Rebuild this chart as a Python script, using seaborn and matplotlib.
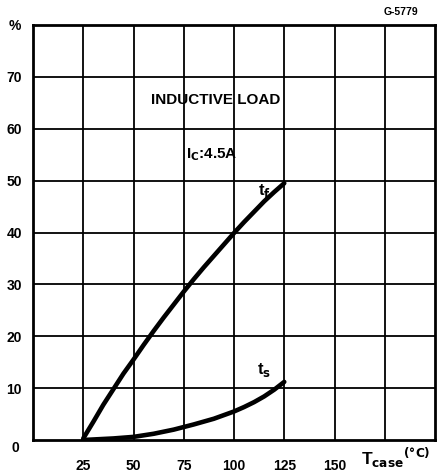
import matplotlib
matplotlib.use("Agg")
import matplotlib.pyplot as plt
import pandas as pd
import seaborn as sns

# curve data
tf_temp = [25, 30, 35, 40, 45, 50, 55, 60, 65, 70, 75, 80, 85, 90, 95, 100, 105, 110, 115, 120, 125]
tf_pct = [0.3, 3.5, 6.8, 9.8, 12.8, 15.5, 18.3, 21.0, 23.6, 26.1, 28.6, 31.0, 33.3, 35.5, 37.7, 39.9,
          42.0, 44.0, 46.0, 47.8, 49.5]

ts_temp = [25, 30, 40, 50, 60, 70, 80, 90, 100, 105, 110, 115, 120, 125]
ts_pct = [0.0, 0.1, 0.3, 0.6, 1.2, 2.0, 3.0, 4.1, 5.5, 6.35, 7.3, 8.4, 9.7, 11.2]

x_ticks = [25, 50, 75, 100, 125, 150]
y_ticks = [10, 20, 30, 40, 50, 60, 70]

sns.set_style("white")
plt.rcParams['font.family'] = ['Liberation Sans', 'DejaVu Sans']
plt.rcParams['text.color'] = 'black'
plt.rcParams['xtick.color'] = 'black'
plt.rcParams['ytick.color'] = 'black'

fig = plt.figure(figsize=(4.41, 4.76), dpi=100)
ax = fig.add_axes([33 / 441, 1 - 440 / 476, 402 / 441, 415 / 476])

# grid
for xv in [25, 50, 75, 100, 125, 150, 175]:
    ax.axvline(xv, color='black', lw=1.3, zorder=1)
for yv in y_ticks:
    ax.axhline(yv, color='black', lw=1.3, zorder=1)

df_tf = pd.DataFrame({"T": tf_temp, "pct": tf_pct})
df_ts = pd.DataFrame({"T": ts_temp, "pct": ts_pct})
sns.lineplot(data=df_tf, x="T", y="pct", color='black', lw=3.3, ax=ax, zorder=3)
sns.lineplot(data=df_ts, x="T", y="pct", color='black', lw=3.3, ax=ax, zorder=3)

ax.set_xlim(0, 200)
ax.set_ylim(0, 80)
for s in ax.spines.values():
    s.set_color('black')
    s.set_linewidth(2)

ax.set_xticks(x_ticks)
ax.set_xticklabels([str(v) for v in x_ticks], fontweight='bold', fontsize=10)
ax.set_yticks(y_ticks)
ax.set_yticklabels([str(v) for v in y_ticks], fontweight='bold', fontsize=10)
ax.tick_params(axis='x', length=0, pad=14)
ax.tick_params(axis='y', length=0, pad=8)
ax.set_xlabel("")
ax.set_ylabel("")

# extra labels
fig.text(15 / 441, 1 - 448 / 476, "0", fontweight='bold', fontsize=10, ha='center', va='center')
fig.text(15 / 441, 1 - 26 / 476, "%", fontweight='bold', fontsize=10, ha='center', va='center')
fig.text(401 / 441, 1 - 12 / 476, "G-5779", fontweight='bold', fontsize=7.5, ha='center', va='center')
fig.text(396 / 441, 1 - 458 / 476, r"T$_{\mathbf{case}}$$^{\mathbf{(°C)}}$", fontweight='bold',
         fontsize=12.5, ha='center', va='center')

ax.text(91, 65.5, "INDUCTIVE LOAD", fontweight='bold', fontsize=11, ha='center', va='center')
ax.text(89, 55, r"I$_{\mathbf{C}}$:4.5A", fontweight='bold', fontsize=11, ha='center', va='center')
ax.text(115, 48, r"t$_{\mathbf{f}}$", fontweight='bold', fontsize=12, ha='center', va='center')
ax.text(115, 13.5, r"t$_{\mathbf{s}}$", fontweight='bold', fontsize=12, ha='center', va='center')

fig.savefig("out.png", dpi=100, facecolor='white')
